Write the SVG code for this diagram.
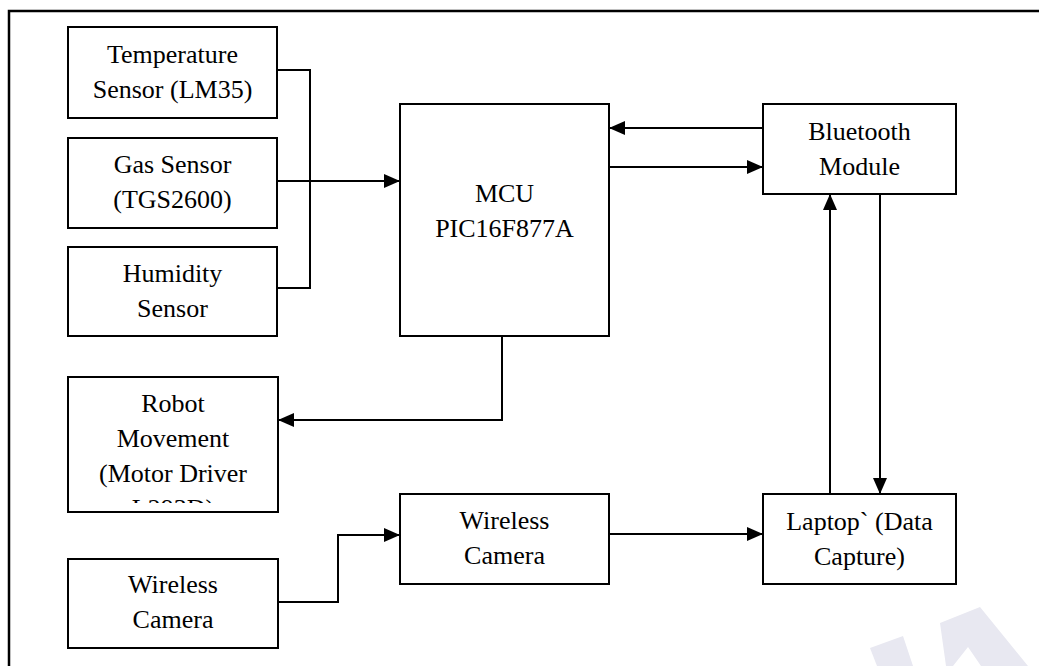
<svg xmlns="http://www.w3.org/2000/svg" width="1039" height="666" viewBox="0 0 1039 666">
<defs>
<style>
.box{fill:#fff;stroke:#000;stroke-width:2}
.ln{fill:none;stroke:#000;stroke-width:2}
.t{font-family:'Liberation Serif','Times New Roman',Tinos,'DejaVu Serif',serif;font-size:26px;fill:#000;text-anchor:middle}
.wm{fill:#e8e8f1}
</style>
<marker id="ah" viewBox="0 0 16 14" refX="16" refY="7" markerWidth="16" markerHeight="14" markerUnits="userSpaceOnUse" orient="auto">
<path d="M0,0 L16,7 L0,14 Z" fill="#000"/>
</marker>
<clipPath id="robotClip"><rect x="69" y="378" width="208" height="125"/></clipPath>
</defs>
<rect x="0" y="0" width="1039" height="666" fill="#fff"/>
<rect x="9" y="11" width="1100" height="720" fill="none" stroke="#000" stroke-width="2.5"/>
<g id="watermark">
<polygon class="wm" points="870,648 903,636 913,666 877,666"/>
<polygon class="wm" points="940,623 980,607 1028,666 981,666 968,647 953,666 946,666"/>
</g>
<g id="connectors">
<polyline class="ln" points="277,70 310,70 310,288 277,288"/>
<line class="ln" x1="277" y1="181" x2="400" y2="181" marker-end="url(#ah)"/>
<line class="ln" x1="763" y1="128" x2="609" y2="128" marker-end="url(#ah)"/>
<line class="ln" x1="609" y1="167" x2="763" y2="167" marker-end="url(#ah)"/>
<polyline class="ln" points="502,336 502,420 278,420" marker-end="url(#ah)"/>
<line class="ln" x1="830" y1="494" x2="830" y2="194" marker-end="url(#ah)"/>
<line class="ln" x1="880" y1="194" x2="880" y2="494" marker-end="url(#ah)"/>
<polyline class="ln" points="278,602 338,602 338,535 400,535" marker-end="url(#ah)"/>
<line class="ln" x1="609" y1="534" x2="763" y2="534" marker-end="url(#ah)"/>
</g>
<g id="temp">
<rect class="box" x="68" y="27" width="209" height="91"/>
<text class="t" x="172.5" y="63" font-family="Liberation Serif">Temperature</text>
<text class="t" x="172.5" y="98" font-family="Liberation Serif">Sensor (LM35)</text>
</g>
<g id="gas">
<rect class="box" x="68" y="138" width="209" height="90"/>
<text class="t" x="172.5" y="173">Gas Sensor</text>
<text class="t" x="172.5" y="208">(TGS2600)</text>
</g>
<g id="humidity">
<rect class="box" x="68" y="247" width="209" height="89"/>
<text class="t" x="172.5" y="282">Humidity</text>
<text class="t" x="172.5" y="317">Sensor</text>
</g>
<g id="mcu">
<rect class="box" x="400" y="104" width="209" height="232"/>
<text class="t" x="504.5" y="202">MCU</text>
<text class="t" x="504.5" y="237">PIC16F877A</text>
</g>
<g id="bluetooth">
<rect class="box" x="763" y="104" width="193" height="90"/>
<text class="t" x="859.5" y="140">Bluetooth</text>
<text class="t" x="859.5" y="175">Module</text>
</g>
<g id="robot">
<rect class="box" x="68" y="377" width="210" height="135"/>
<g clip-path="url(#robotClip)">
<text class="t" x="173" y="412">Robot</text>
<text class="t" x="173" y="447">Movement</text>
<text class="t" x="173" y="482">(Motor Driver</text>
<text class="t" x="173" y="517">L293D)</text>
</g>
</g>
<g id="camera1">
<rect class="box" x="68" y="559" width="210" height="89"/>
<text class="t" x="173" y="593">Wireless</text>
<text class="t" x="173" y="628">Camera</text>
</g>
<g id="camera2">
<rect class="box" x="400" y="494" width="209" height="90"/>
<text class="t" x="504.5" y="529">Wireless</text>
<text class="t" x="504.5" y="564">Camera</text>
</g>
<g id="laptop">
<rect class="box" x="763" y="494" width="193" height="90"/>
<text class="t" x="859.5" y="530">Laptop` (Data</text>
<text class="t" x="859.5" y="565">Capture)</text>
</g>
</svg>
